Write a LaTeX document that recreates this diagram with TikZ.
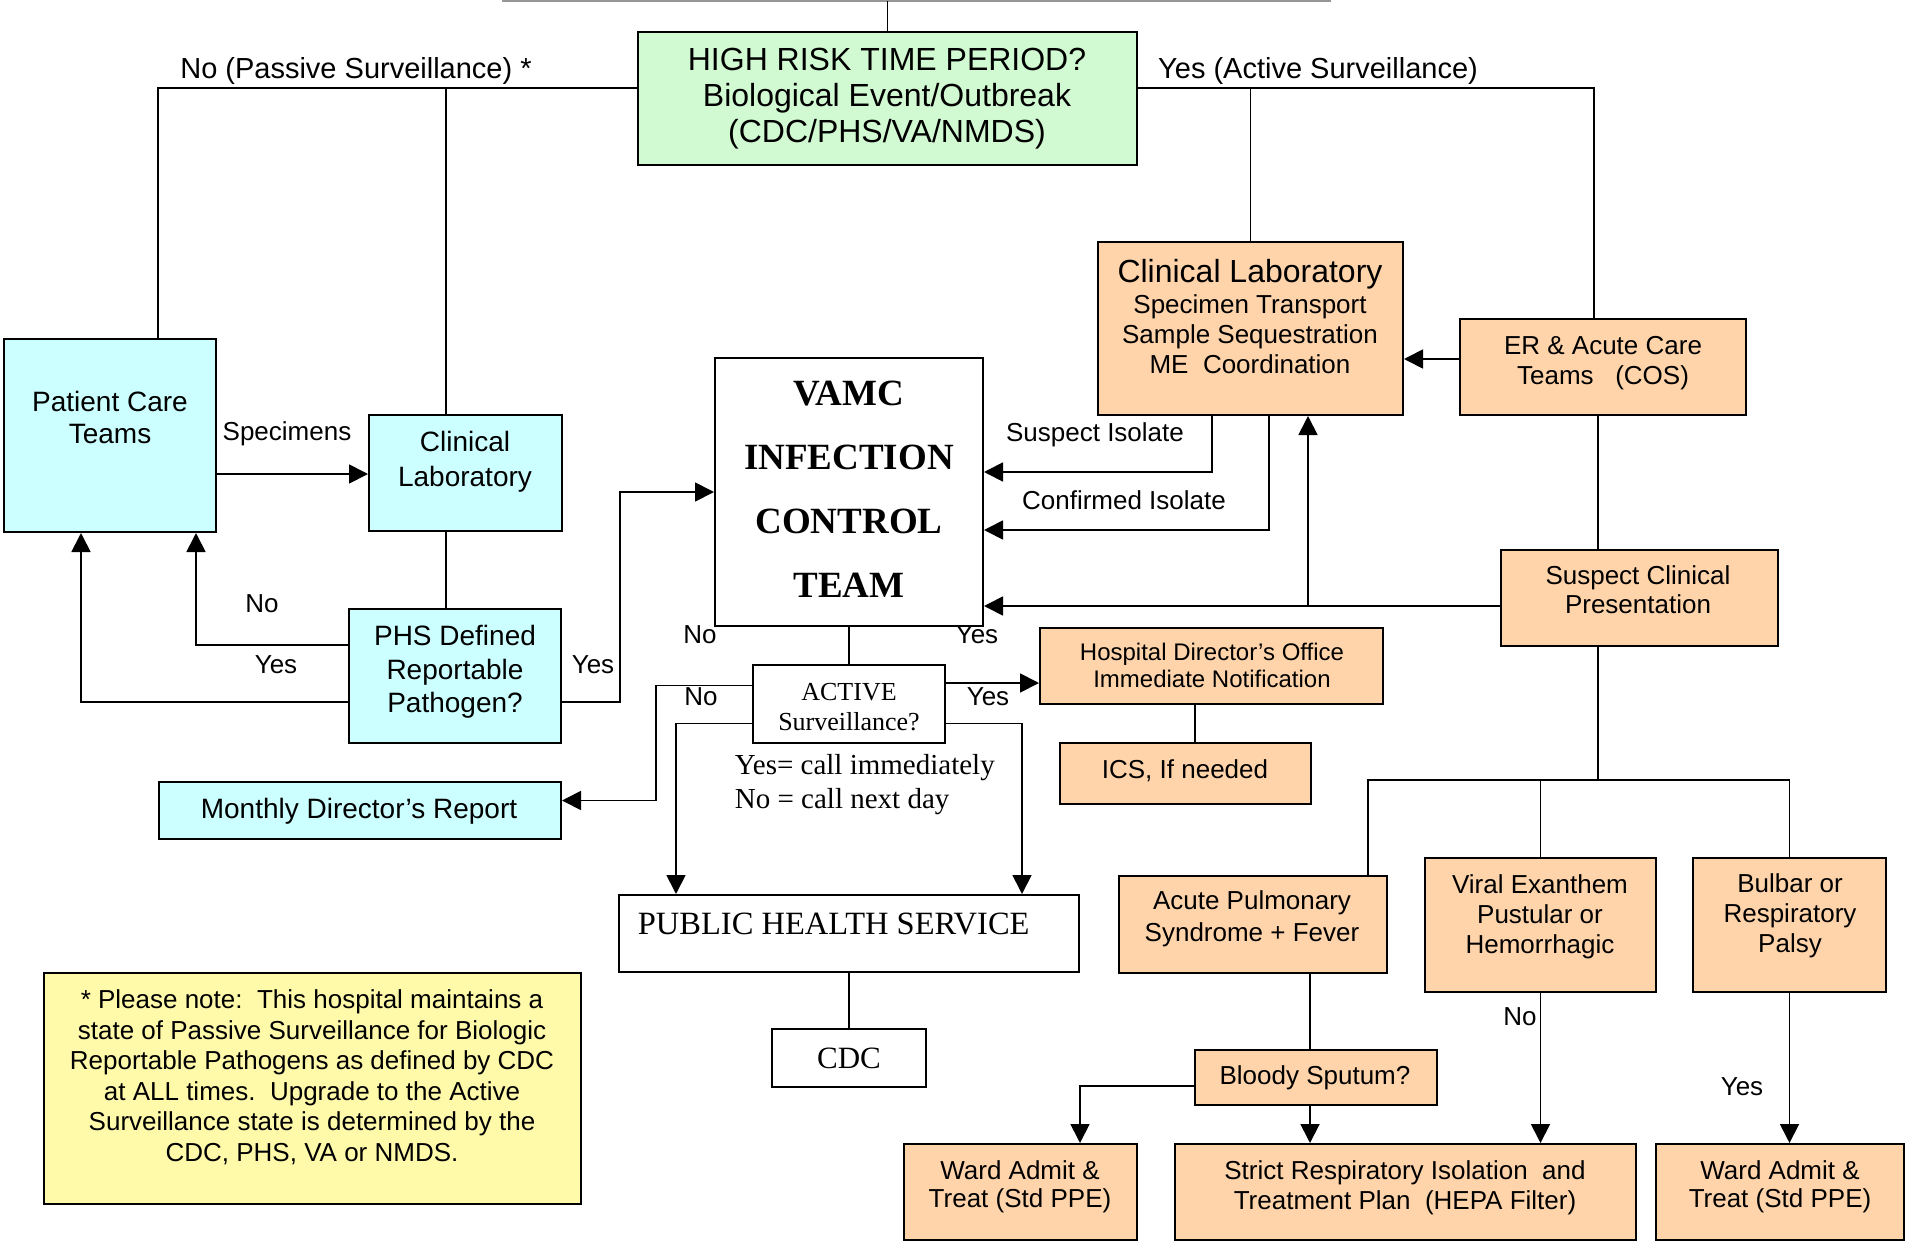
\documentclass[tikz,border=0pt]{standalone}
\usepackage{fontspec}
\setmainfont{Liberation Sans}
\newfontfamily\timesfont{Liberation Serif}
\usetikzlibrary{arrows.meta}
\definecolor{ccffff}{rgb}{0.8,1.,1.}
\definecolor{d2fad2}{rgb}{0.824,0.98,0.824}
\definecolor{ffd4aa}{rgb}{1.,0.831,0.667}
\definecolor{fffaaa}{rgb}{1.,0.98,0.667}
\definecolor{969696}{rgb}{0.588,0.588,0.588}
\tikzset{
	box/.style={draw,line width=2pt,inner sep=0pt},
	txt/.style={inner sep=0pt,align=center,font=\fontsize{26}{30}\selectfont},
	lbl/.style={inner sep=0pt,font=\fontsize{26}{30}\selectfont}
}
\begin{document}
\begin{tikzpicture}[line cap=butt,line join=miter,>={Triangle[length=19pt,width=19pt]},x=1pt,y=-1pt,line width=1.8pt]
		\useasboundingbox (0,0) rectangle (1906,1242);
		% boxes
		\node[box,fill=d2fad2,minimum width=499pt,minimum height=133pt] (hirisk) at (887.5,98.5) {};
		\node[txt,font=\fontsize{32}{36}\selectfont] (hirisk-t) at (887,99) {HIGH RISK TIME PERIOD?\\Biological Event/Outbreak\\(CDC/PHS/VA/NMDS)};
		\node[box,fill=ccffff,minimum width=212pt,minimum height=193pt] (pct) at (110,435.5) {};
		\node[txt,font=\fontsize{28}{32}\selectfont] (pct-t) at (110,417) {Patient Care\\Teams};
		\node[box,fill=ccffff,minimum width=193pt,minimum height=116pt] (lab1) at (465.5,473) {};
		\node[txt,font=\fontsize{28}{35}\selectfont] (lab1-t) at (465,462) {Clinical\\Laboratory};
		\node[box,fill=ccffff,minimum width=212pt,minimum height=134.5pt] (phs) at (455,676) {};
		\node[txt,font=\fontsize{28}{33.5}\selectfont] (phs-t) at (455,672) {PHS Defined\\Reportable\\Pathogen?};
		\node[box,fill=ccffff,minimum width=402.5pt,minimum height=57pt] (monthly) at (359.75,810.5) {};
		\node[txt,font=\fontsize{28}{34}\selectfont] (monthly-t) at (359,811) {Monthly Director’s Report};
		\node[box,fill=fffaaa,minimum width=537.5pt,minimum height=230.5pt] (note) at (312.25,1088.25) {};
		\node[txt,font=\fontsize{26}{30.5}\selectfont] (note-t) at (312,1077) {* Please note:\ \ This hospital maintains a\\state of Passive Surveillance for Biologic\\Reportable Pathogens as defined by CDC\\at ALL times.\ \ Upgrade to the Active\\Surveillance state is determined by the\\CDC, PHS, VA or NMDS.};
		\node[box,fill=white,minimum width=268pt,minimum height=268pt] (vamc) at (849,492) {};
		\node[txt,font=\timesfont\bfseries\fontsize{37}{64}\selectfont] (vamc-t) at (849,489) {VAMC\\INFECTION\\CONTROL\\TEAM};
		\node[box,fill=white,minimum width=192pt,minimum height=78pt] (active) at (849,704) {};
		\node[txt,font=\timesfont\fontsize{26}{30}\selectfont] (active-t) at (849,707) {ACTIVE\\Surveillance?};
		\node[lbl,anchor=west,align=left,font=\timesfont\fontsize{29}{34}\selectfont] (call-t) at (734,785) {Yes= call immediately\\No = call next day};
		\node[box,fill=white,minimum width=460pt,minimum height=77pt] (pub) at (849,933.5) {};
		\node[lbl,anchor=west,font=\timesfont\fontsize{32.5}{36}\selectfont] (pub-t) at (637,924) {PUBLIC HEALTH SERVICE};
		\node[box,fill=white,minimum width=154pt,minimum height=58pt] (cdc) at (849,1058) {};
		\node[lbl,font=\timesfont\fontsize{31}{36}\selectfont] (cdc-t) at (849,1058) {CDC};
		\node[box,fill=ffd4aa,minimum width=305pt,minimum height=173pt] (lab2) at (1250.5,328.5) {};
		\node[lbl,font=\fontsize{32}{36}\selectfont] (lab2-t1) at (1250,274.5) {Clinical Laboratory};
		\node[txt] (lab2-t2) at (1250,334.5) {Specimen Transport\\Sample Sequestration\\ME\ \ Coordination};
		\node[box,fill=ffd4aa,minimum width=286pt,minimum height=96pt] (er) at (1603,367) {};
		\node[txt] (er-t) at (1603,363) {ER \& Acute Care\\Teams\ \ \ (COS)};
		\node[box,fill=ffd4aa,minimum width=277pt,minimum height=96pt] (scp) at (1639.5,598) {};
		\node[txt,font=\fontsize{26}{29}\selectfont] (scp-t) at (1638,589.5) {Suspect Clinical\\Presentation};
		\node[box,fill=ffd4aa,minimum width=343pt,minimum height=76pt] (hosp) at (1211.5,666) {};
		\node[txt,font=\fontsize{24}{27}\selectfont] (hosp-t) at (1212,665.5) {Hospital Director’s Office\\Immediate Notification};
		\node[box,fill=ffd4aa,minimum width=251pt,minimum height=61pt] (ics) at (1185.5,773.5) {};
		\node[txt] (ics-t) at (1185,771) {ICS, If needed};
		\node[box,fill=ffd4aa,minimum width=268.5pt,minimum height=97pt] (acute) at (1252.75,924.5) {};
		\node[txt,font=\fontsize{26}{32}\selectfont] (acute-t) at (1252,919) {Acute Pulmonary\\Syndrome + Fever};
		\node[box,fill=ffd4aa,minimum width=231pt,minimum height=134pt] (viral) at (1540.5,925) {};
		\node[txt] (viral-t) at (1540,917) {Viral Exanthem\\Pustular or\\Hemorrhagic};
		\node[box,fill=ffd4aa,minimum width=193pt,minimum height=134pt] (bulbar) at (1789.5,925) {};
		\node[txt] (bulbar-t) at (1790,916) {Bulbar or\\Respiratory\\Palsy};
		\node[box,fill=ffd4aa,minimum width=242pt,minimum height=55pt] (bloody) at (1316,1077) {};
		\node[txt] (bloody-t) at (1315,1078) {Bloody Sputum?};
		\node[box,fill=ffd4aa,minimum width=233pt,minimum height=96pt] (wardl) at (1020.5,1192) {};
		\node[txt,font=\fontsize{26}{28}\selectfont] (wardl-t) at (1020,1187) {Ward Admit \&\\Treat (Std PPE)};
		\node[box,fill=ffd4aa,minimum width=461pt,minimum height=96pt] (strict) at (1405.5,1192) {};
		\node[txt] (strict-t) at (1405,1188) {Strict Respiratory Isolation\ \ and\\Treatment Plan\ \ (HEPA Filter)};
		\node[box,fill=ffd4aa,minimum width=248pt,minimum height=96pt] (wardr) at (1780,1192) {};
		\node[txt,font=\fontsize{26}{28}\selectfont] (wardr-t) at (1780,1187) {Ward Admit \&\\Treat (Std PPE)};
		% labels
		\node[lbl,font=\fontsize{29}{32}\selectfont] (no-passive) at (356,70.5) {No (Passive Surveillance) *};
		\node[lbl,font=\fontsize{29}{32}\selectfont] (yes-active) at (1318,70.5) {Yes (Active Surveillance)};
		\node[lbl] (specimens) at (287,434) {Specimens};
		\node[lbl] (suspiso) at (1095,435) {Suspect Isolate};
		\node[lbl] (confiso) at (1124,500) {Confirmed Isolate};
		\node[lbl] (no-phs) at (262,604) {No};
		\node[lbl] (yes-phs) at (276,665) {Yes};
		\node[lbl] (yes-phs2) at (593,665) {Yes};
		\node[lbl] (no-vamc) at (700,635) {No};
		\node[lbl] (yes-vamc) at (977,635) {Yes};
		\node[lbl] (no-act) at (701,697) {No};
		\node[lbl] (yes-act) at (988,697) {Yes};
		\node[lbl] (no-viral) at (1520,1017) {No};
		\node[lbl] (yes-bulbar) at (1742,1087) {Yes};
		% top
		\draw[969696,line width=2pt] (502,1) -- (1331,1);
		\draw (hirisk.north) -- (hirisk.north |- 0,1);
		% passive side
		\coordinate (pctn) at ([xshift=48pt]pct.north);
		\coordinate (lab1n) at ([xshift=-19.5pt]lab1.north);
		\draw ([yshift=10.5pt]hirisk.west) -| (pctn);
		\draw (lab1n) -- (lab1n |- 0,88);
		\coordinate (pcte) at ([yshift=-38.5pt]pct.east);
		\draw [->] (pcte) -- (pcte -| lab1.west);
		\coordinate (lab1s) at ([xshift=-19.5pt]lab1.south);
		\draw (lab1s) -- (lab1s |- phs.north);
		\coordinate (pctsa) at ([xshift=-29pt]pct.south);
		\coordinate (pctsb) at ([xshift=86pt]pct.south);
		\draw [->] ([yshift=31pt]phs.west) -| (pctsb);
		\draw [->] ([yshift=-26pt]phs.west) -| (pctsa);
		\draw [->] ([yshift=-26pt]phs.east) -- ++(58,0) |- (vamc.west);
		% active side
		\coordinate (ern) at ([xshift=-9pt]er.north);
		\draw ([yshift=10.5pt]hirisk.east) -| (ern);
		\draw (lab2.north) -- (lab2.north |- 0,88);
		\coordinate (erw) at ([yshift=8pt]er.west);
		\draw [->] (erw) -- (erw -| lab2.east);
		\coordinate (susp) at ([xshift=-38.5pt]lab2.south);
		\coordinate (conf) at ([xshift=18.5pt]lab2.south);
		\draw [->] (susp) |- ([yshift=20pt]vamc.east);
		\draw [->] (conf) |- ([yshift=-38pt]vamc.east);
		\coordinate (ers) at ([xshift=-5pt]er.south);
		\draw (ers) -- (ers |- scp.north);
		\coordinate (scpw) at ([yshift=-8pt]scp.west);
		\coordinate (up) at ([xshift=57.5pt]lab2.south);
		\draw [->] (scpw) -- (scpw -| vamc.east);
		\draw [->] (scpw -| up) -- (up);
		% reporting
		\draw (vamc.south) -- (active.north);
		\coordinate (acte) at ([yshift=21pt]active.east);
		\draw [->] (acte) -- (acte -| hosp.west);
		\coordinate (pubr) at ([xshift=173pt]pub.north);
		\coordinate (publ) at ([xshift=-173pt]pub.north);
		\draw [->] ([yshift=-19.5pt]active.east) -| (pubr);
		\draw [->] ([yshift=-19.5pt]active.west) -| (publ);
		\draw [->] ([yshift=18.5pt]active.west) -- ++(-96,0) |- ([yshift=10pt]monthly.east);
		\draw (pub.south) -- (cdc.north);
		\coordinate (hosps) at ([xshift=-16.5pt]hosp.south);
		\draw (hosps) -- (hosps |- ics.north);
		% clinical presentation
		\coordinate (scps) at ([xshift=-41.5pt]scp.south);
		\coordinate (fork) at (scps |- 0,780);
		\draw (scps) -- (fork);
		\coordinate (acuten) at ([xshift=115.5pt]acute.north);
		\draw (acuten) |- (fork) -| (bulbar.north);
		\draw (viral.north) -- (viral.north |- fork);
		\coordinate (acutes) at ([xshift=57pt]acute.south);
		\draw (acutes) -- (acutes |- bloody.north);
		\coordinate (bloodys) at ([xshift=-6pt]bloody.south);
		\draw [->] (bloodys) -- (bloodys |- strict.north);
		\coordinate (wardln) at ([xshift=59.5pt]wardl.north);
		\draw [->] ([yshift=-9pt]bloody.west) -| (wardln);
		\draw [->] (viral.south) -- (viral.south |- strict.north);
		\draw [->] (bulbar.south) -- (bulbar.south |- wardr.north);
\end{tikzpicture}
\end{document}
